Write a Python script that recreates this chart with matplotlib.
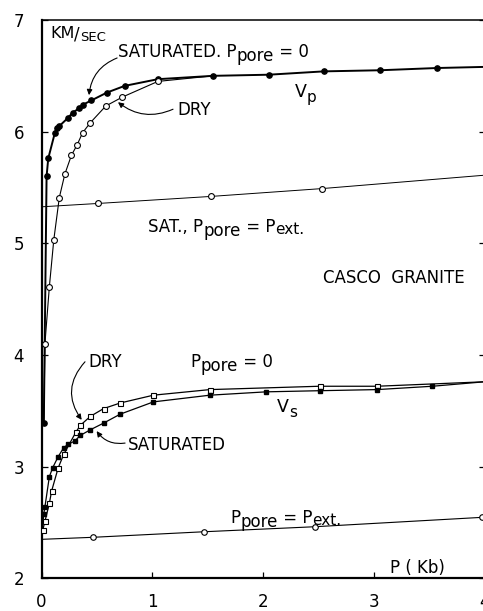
import matplotlib
matplotlib.use("Agg")
import matplotlib.pyplot as plt
import numpy as np

plt.rcParams['font.family'] = ['DejaVu Sans']

# ---------------- data (P in kb, velocity in km/s) ----------------
# Vp, saturated, P_pore = 0 (filled circles)
vp_sat_p = [0.02, 0.045, 0.06, 0.12, 0.135, 0.16, 0.24, 0.28, 0.34, 0.37, 0.45,
            0.59, 0.75, 1.05, 1.55, 2.05, 2.55, 3.06, 3.57]
vp_sat_v = [3.39, 5.60, 5.76, 5.99, 6.03, 6.05, 6.125, 6.17, 6.21, 6.24, 6.28,
            6.35, 6.41, 6.47, 6.50, 6.51, 6.54, 6.55, 6.57]
vp_sat_end = (4.0, 6.58)

# Vp, dry (open circles)
vp_dry_p = [0.03, 0.07, 0.11, 0.16, 0.21, 0.27, 0.32, 0.37, 0.44, 0.58, 0.73, 1.05]
vp_dry_v = [4.10, 4.61, 5.03, 5.41, 5.62, 5.79, 5.88, 5.99, 6.08, 6.23, 6.31, 6.45]
vp_dry_start = (0.02, 3.39)
vp_dry_end = (1.55, 6.50)

# Vp, saturated, P_pore = P_ext (open circles)
vp_ext_p = [0.51, 1.53, 2.53]
vp_ext_v = [5.357, 5.42, 5.49]
vp_ext_start = (0.0, 5.327)
vp_ext_end = (4.0, 5.61)

# Vs, dry (open squares)
vs_dry_p = [0.01, 0.03, 0.07, 0.09, 0.15, 0.20, 0.31, 0.35, 0.44, 0.56, 0.71,
            1.01, 1.52, 2.51, 3.03]
vs_dry_v = [2.43, 2.51, 2.67, 2.78, 2.99, 3.11, 3.31, 3.37, 3.45, 3.52, 3.57,
            3.64, 3.69, 3.72, 3.72]
vs_dry_end = (4.0, 3.76)

# Vs, saturated (filled squares)
vs_sat_p = [0.02, 0.03, 0.07, 0.10, 0.15, 0.20, 0.24, 0.30, 0.35, 0.44, 0.56,
            0.71, 1.01, 1.52, 2.03, 2.51, 3.03, 3.53]
vs_sat_v = [2.58, 2.64, 2.91, 2.99, 3.09, 3.17, 3.20, 3.23, 3.28, 3.33, 3.39,
            3.47, 3.58, 3.64, 3.67, 3.68, 3.69, 3.72]
vs_sat_start = (0.005, 2.42)
vs_sat_end = (4.0, 3.76)

# Vs, P_pore = P_ext (open circles)
vs_ext_p = [0.46, 1.47, 2.47, 3.98]
vs_ext_v = [2.367, 2.417, 2.462, 2.546]
vs_ext_start = (0.0, 2.349)

x_ticks = [0, 1, 2, 3, 4]
y_ticks = [2, 3, 4, 5, 6, 7]

# ---------------- figure ----------------
W, H = 483, 611
fig = plt.figure(figsize=(W / 100, H / 100), dpi=100)
ax = fig.add_axes([41.6 / W, (H - 578.3) / H, (484.5 - 41.6) / W, (578.3 - 20) / H])
ax.set_xlim(0, 4)
ax.set_ylim(2, 7)

k = 'black'


def line(p, v, lw=0.8):
    ax.plot(p, v, color=k, lw=lw, solid_capstyle='round', zorder=2)


# Vp saturated
line(list(vp_sat_p) + [vp_sat_end[0]], list(vp_sat_v) + [vp_sat_end[1]], lw=1.4)
ax.plot(vp_sat_p, vp_sat_v, 'o', ms=3.8, mfc=k, mec=k, zorder=3)
# Vp dry
line([vp_dry_start[0]] + vp_dry_p + [vp_dry_end[0]],
     [vp_dry_start[1]] + vp_dry_v + [vp_dry_end[1]], lw=0.8)
ax.plot(vp_dry_p, vp_dry_v, 'o', ms=4.2, mfc='white', mec=k, mew=0.8, zorder=3)
# Vp ext
line([vp_ext_start[0]] + vp_ext_p + [vp_ext_end[0]],
     [vp_ext_start[1]] + vp_ext_v + [vp_ext_end[1]], lw=0.7)
ax.plot(vp_ext_p, vp_ext_v, 'o', ms=4.2, mfc='white', mec=k, mew=0.8, zorder=3)
# Vs dry
line([vs_sat_start[0]] + vs_dry_p + [vs_dry_end[0]],
     [vs_sat_start[1]] + vs_dry_v + [vs_dry_end[1]], lw=0.9)
ax.plot(vs_dry_p, vs_dry_v, 's', ms=3.6, mfc='white', mec=k, mew=0.8, zorder=3)
# Vs saturated
line([vs_sat_start[0]] + vs_sat_p + [vs_sat_end[0]],
     [vs_sat_start[1]] + vs_sat_v + [vs_sat_end[1]], lw=0.9)
ax.plot(vs_sat_p, vs_sat_v, 's', ms=3.4, mfc=k, mec=k, zorder=3)
# Vs ext
line([vs_ext_start[0]] + vs_ext_p, [vs_ext_start[1]] + vs_ext_v, lw=0.8)
ax.plot(vs_ext_p, vs_ext_v, 'o', ms=4.0, mfc='white', mec=k, mew=0.8, zorder=3,
        clip_on=False)

# ---------------- axes styling ----------------
for s in ['left', 'bottom']:
    ax.spines[s].set_linewidth(1.6)
ax.spines['top'].set_linewidth(1.1)
ax.spines['right'].set_visible(False)
ax.set_xticks(x_ticks)
ax.set_yticks(y_ticks)
ax.set_xticklabels([str(t) for t in x_ticks])
ax.set_yticklabels([str(t) for t in y_ticks])
ax.tick_params(axis='x', direction='in', length=4, width=0.9, pad=10.5, labelsize=12,
               top=False)
ax.tick_params(axis='y', direction='in', length=4, width=0.9, pad=12.5, labelsize=12,
               right=True)


# ---------------- annotations ----------------
def chain(x, y, parts):
    """parts: (string, fontsize, baseline shift in points)."""
    prev = None
    prev_dy = 0
    for s, size, dy in parts:
        if prev is None:
            t = ax.annotate(s, xy=(x, y), xycoords='data', xytext=(0, dy),
                            textcoords='offset points', fontsize=size,
                            va='baseline', ha='left', annotation_clip=False)
        else:
            t = ax.annotate(s, xy=(1, 0), xycoords=prev, xytext=(0, dy - prev_dy),
                            textcoords='offset points', fontsize=size,
                            va='bottom', ha='left', annotation_clip=False)
        prev, prev_dy = t, dy


F = 12
chain(0.076, 6.835, [("KM", 11.5, 0), ("/", 12, -1.8), ("SEC", 9.5, -2.2)])
chain(0.69, 6.667, [("SATURATED. P", F, 0), ("pore", F, -3), (" = 0", F, 0)])
chain(1.224, 6.148, [("DRY", F, 0)])
chain(2.289, 6.312, [("V", 12.5, 0), ("p", 11, -3)])
chain(0.961, 5.103, [("SAT., P", F, 0), ("pore", F, -3), (" = P", F, 0),
                     ("ext.", 11, -1)])
chain(2.542, 4.644, [("CASCO  GRANITE", 12, 0)])
chain(0.419, 3.893, [("DRY", F, 0)])
chain(1.341, 3.894, [("P", F, 0), ("pore", F, -3), (" = 0", F, 0)])
chain(0.780, 3.149, [("SATURATED", F, 0)])
chain(2.126, 3.49, [("V", 12.5, 0), ("s", 11, -3)])
chain(1.702, 2.498, [("P", F, 0), ("pore", F, -3), (" = P", F, 0),
                     ("ext.", 11, -1)])
chain(3.147, 2.047, [("P ( Kb)", F, 0)])

arrow_kw = dict(arrowstyle='-|>', color=k, lw=0.8, mutation_scale=8,
                shrinkA=0, shrinkB=0)
ax.annotate('', xy=(0.428, 6.327), xytext=(0.682, 6.66),
            arrowprops=dict(connectionstyle='arc3,rad=0.3', **arrow_kw))
ax.annotate('', xy=(0.69, 6.264), xytext=(1.187, 6.201),
            arrowprops=dict(connectionstyle='arc3,rad=-0.3', **arrow_kw))
ax.annotate('', xy=(0.362, 3.419), xytext=(0.392, 3.939),
            arrowprops=dict(connectionstyle='arc3,rad=0.4', **arrow_kw))
ax.annotate('', xy=(0.497, 3.318), xytext=(0.754, 3.211),
            arrowprops=dict(connectionstyle='arc3,rad=-0.3', **arrow_kw))

fig.savefig("out.png", dpi=100)
